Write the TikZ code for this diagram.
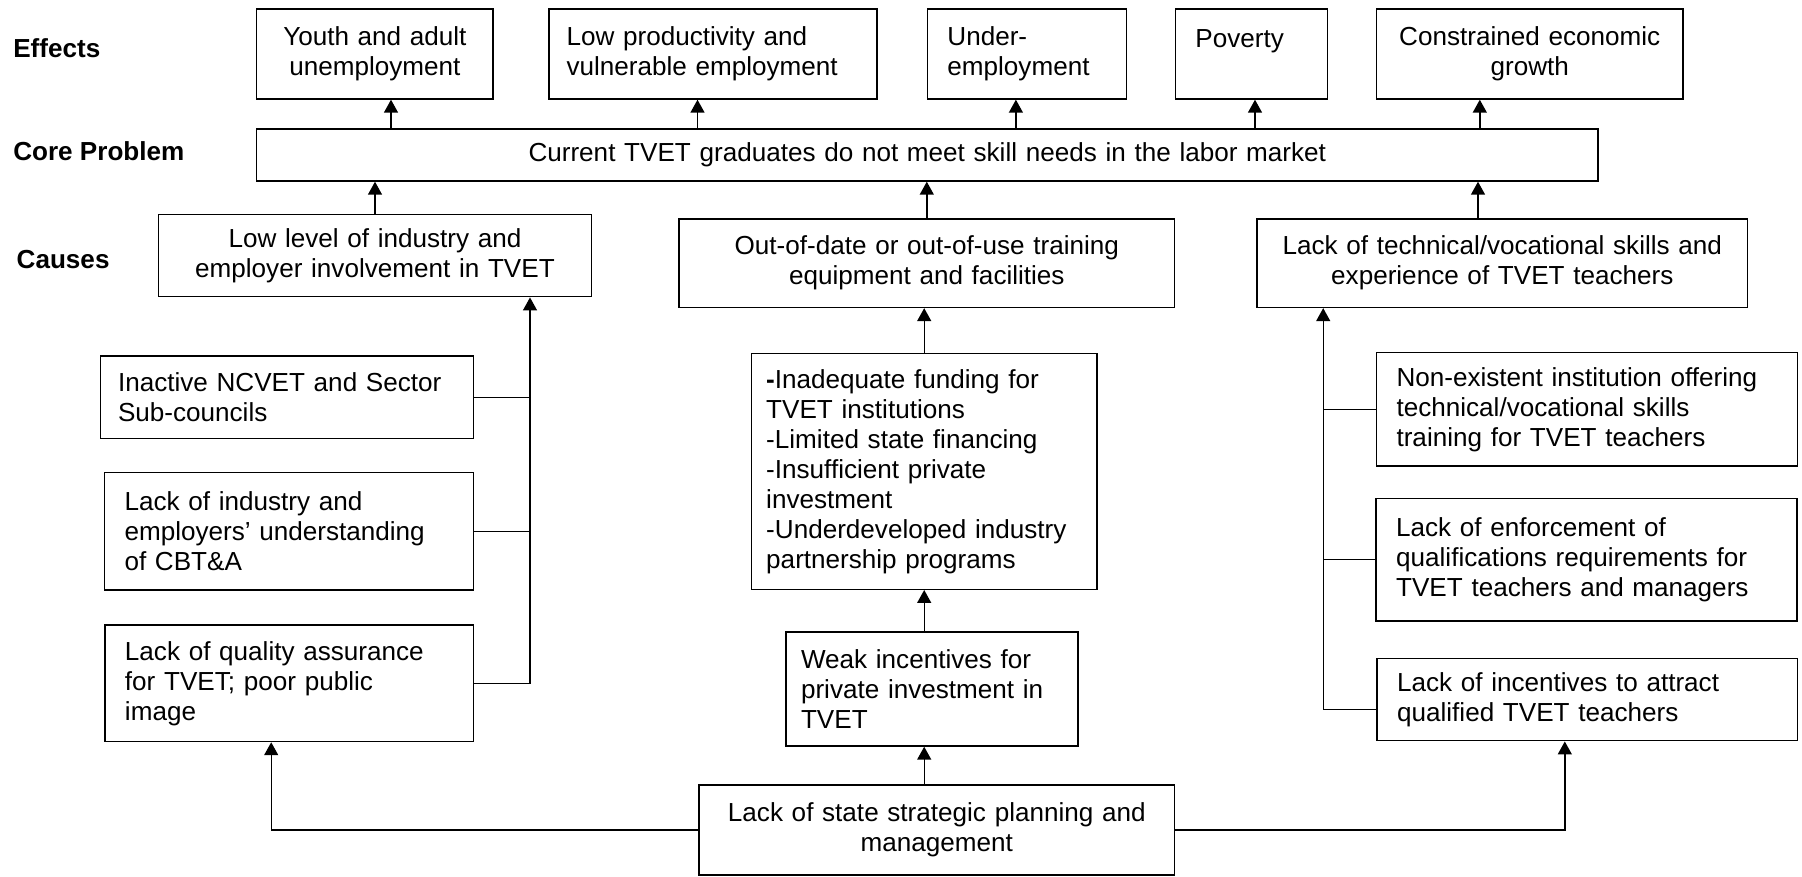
\documentclass[tikz,border=0pt]{standalone}
\usepackage{fontspec}
\setmainfont{Liberation Sans}
\usepackage{tikz}
\usetikzlibrary{arrows.meta,calc,positioning}

\tikzset{
	>={Triangle[length=0.26cm,width=0.28cm]},
	treebox/.style={
			draw,
			rectangle,
			inner xsep=0.4cm,
			inner ysep=0pt,
			align=center,
			font=\fontsize{14.85}{17.07}\selectfont
		},
	listbox/.style={
			treebox,
			align=left
		},
	rowlabel/.style={
			anchor=base west,
			inner sep=0pt,
			font=\fontsize{14.85}{17.07}\selectfont\bfseries
		}
}

\begin{document}
\begin{tikzpicture}[x=0.02cm, y=-0.02cm, line width=0.8pt]
    \useasboundingbox (0,0) rectangle (1802,876);

    % row labels
    \node[rowlabel] (effects) at (12.6,57) {Effects};
    \node[rowlabel] (coreprob) at (12.6,160) {Core Problem};
    \node[rowlabel] (causes) at (16,268) {Causes};

    % effects
    \node[treebox, text width=3.93cm, minimum height=1.8cm] (youth) at (374.9,54) {Youth and adult\\unemployment};
    \node[listbox, text width=5.86cm, inner xsep=0.35cm, minimum height=1.8cm] (lowprod) at (713,54) {Low productivity and\\vulnerable employment};
    \node[listbox, text width=3.18cm, minimum height=1.8cm] (under) at (1026.9,54) {Under-\\employment};
    \node[listbox, text width=2.24cm, minimum height=1.8cm] (poverty) at (1251.4,54) {Poverty\\~};
    \node[treebox, text width=5.33cm, minimum height=1.8cm] (growth) at (1529.7,54) {Constrained economic\\growth};

    % core problem
    \node[treebox, text width=26.03cm, minimum height=1.04cm] (core) at (927.3,155) {Current TVET graduates do not meet skill needs in the labor market};

    % causes
    \node[treebox, text width=8.05cm, inner xsep=0.3cm, minimum height=1.65cm] (lowlevel) at (375,255.5) {Low level of industry and\\employer involvement in TVET};
    \node[treebox, text width=9.12cm, minimum height=1.77cm] (equip) at (926.8,263.2) {Out-of-date or out-of-use training\\equipment and facilities};
    \node[treebox, text width=9.22cm, inner xsep=0.3cm, minimum height=1.77cm] (teachskill) at (1502.3,263.2) {Lack of technical/vocational skills and\\experience of TVET teachers};

    \node[listbox, text width=6.76cm, inner xsep=0.35cm, minimum height=1.65cm] (ncvet) at (287,397.2) {Inactive NCVET and Sector\\Sub-councils};
    \node[listbox, text width=6.58cm, minimum height=2.35cm] (cbta) at (289,531.3) {Lack of industry and\\employers’ understanding\\of CBT\&A};
    \node[listbox, text width=6.57cm, minimum height=2.33cm] (quality) at (289.2,683.3) {Lack of quality assurance\\for TVET; poor public\\image};

    \node[listbox, text width=6.32cm, inner xsep=0.3cm, minimum height=4.72cm] (funding) at (924.2,471.3) {\textbf{-}Inadequate funding for\\TVET institutions\\-Limited state financing\\-Insufficient private\\investment\\-Underdeveloped industry\\partnership programs};
    \node[listbox, text width=5.24cm, inner xsep=0.3cm, minimum height=2.28cm] (incentive) at (932,689) {Weak incentives for\\private investment in\\TVET};
    \node[treebox, text width=8.91cm, inner xsep=0.3cm, minimum height=1.8cm] (planning) at (936.8,830) {Lack of state strategic planning and\\management};

    \node[listbox, text width=7.62cm, minimum height=2.27cm] (training) at (1587,409.3) {Non-existent institution offering\\technical/vocational skills\\training for TVET teachers};
    \node[listbox, text width=7.62cm, minimum height=2.45cm] (enforce) at (1586.6,559.7) {Lack of enforcement of\\qualifications requirements for\\TVET teachers and managers};
    \node[listbox, text width=7.61cm, minimum height=1.65cm] (attract) at (1587.3,699.5) {Lack of incentives to attract\\qualified TVET teachers};

    % core -> effects
    \foreach \b/\x in {youth/391,lowprod/697.5,under/1015.9,poverty/1255,growth/1479.8}{
        \coordinate (up) at (\x,0);
        \draw[->] (core.north -| up) -- (\b.south -| up);
    }

    % causes -> core
    \draw[->] (lowlevel.north) -- (lowlevel.north |- core.south);
    \draw[->] (equip.north) -- (equip.north |- core.south);
    \coordinate (techup) at (1478,0);
    \draw[->] (teachskill.north -| techup) -- (core.south -| techup);

    % left spine
    \coordinate (lspine) at (530,0);
    \draw[->] (quality.east) -| (lowlevel.south -| lspine);
    \draw (ncvet.east) -- (ncvet.east -| lspine);
    \draw (cbta.east) -- (cbta.east -| lspine);

    % middle
    \draw[->] (funding.north) -- (equip.south -| funding.north);
    \draw[->] (incentive.north -| funding) -- (funding.south);
    \draw[->] (planning.north -| funding) -- (incentive.south -| funding);

    % right spine
    \coordinate (rspine) at (1323.2,0);
    \draw[->] ([yshift=-0.2cm]attract.west) -| (teachskill.south -| rspine);
    \draw (training.west) -- (training.west -| rspine);
    \draw (enforce.west) -- (enforce.west -| rspine);

    % planning branches
    \draw[->] (planning.west) -| ([xshift=-0.36cm]quality.south);
    \draw[->] (planning.east) -| ([xshift=-0.45cm]attract.south);
\end{tikzpicture}
\end{document}
